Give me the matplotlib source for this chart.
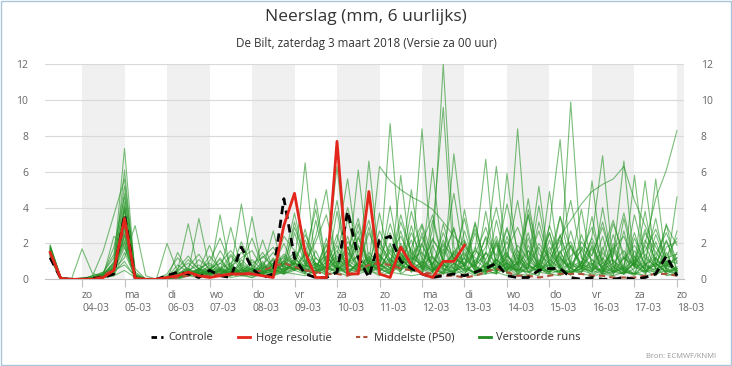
import matplotlib
matplotlib.use("Agg")
import matplotlib.pyplot as plt
from matplotlib.lines import Line2D
import numpy as np

plt.rcParams['font.family'] = ['Open Sans', 'DejaVu Sans']

# 6-hourly steps, first value valid 03-03 06:00
step_hours = 6
start_offset_days = 0.25

day_labels = ["zo\n04-03", "ma\n05-03", "di\n06-03", "wo\n07-03", "do\n08-03",
              "vr\n09-03", "za\n10-03", "zo\n11-03", "ma\n12-03", "di\n13-03",
              "wo\n14-03", "do\n15-03", "vr\n16-03", "za\n17-03", "zo\n18-03"]

controle = [
    1.2, 0.05, 0.0, 0.0, 0.05, 0.1, 0.3, 3.6, 0.05, 0.0, 0.0, 0.2, 0.4, 0.3, 0.1, 0.5, 0.2, 0.1, 1.8,
    0.6, 0.1, 0.3, 4.5, 1.2, 0.3, 0.1, 0.1, 0.4, 3.8, 1.2, 0.1, 2.2, 2.4, 1.0, 0.6,
    0.3, 0.1, 0.2, 0.3, 0.2, 0.4, 0.6, 0.9, 0.2, 0.1, 0.1, 0.5, 0.6, 0.6, 0.1, 0.0,
    0.1, 0.0, 0.0, 0.1, 0.0, 0.1, 0.3, 1.3, 0.2]

hoge_resolutie = [
    1.5, 0.05, 0.0, 0.0, 0.0, 0.1, 0.5, 3.4, 0.05, 0.0, 0.0, 0.1, 0.2, 0.4, 0.2, 0.1, 0.2, 0.3, 0.3,
    0.3, 0.2, 0.1, 3.0, 4.8, 1.5, 0.1, 0.1, 7.7, 0.3, 0.3, 4.9, 0.3, 0.1, 1.8, 0.8,
    0.3, 0.1, 1.0, 1.0, 1.9]

middelste = [
    1.5, 0.05, 0.0, 0.0, 0.05, 0.2, 0.6, 3.0, 0.1, 0.0, 0.0, 0.0, 0.1, 0.2, 0.2, 0.2, 0.3, 0.2, 0.3,
    0.4, 0.5, 0.7, 0.9, 0.7, 0.5, 0.4, 0.3, 0.3, 0.2, 0.5, 0.8, 0.9, 0.8, 0.6, 0.5,
    0.4, 0.3, 0.2, 0.2, 0.1, 0.2, 0.4, 0.6, 0.4, 0.2, 0.2, 0.1, 0.2, 0.3, 0.3, 0.3,
    0.2, 0.2, 0.1, 0.1, 0.1, 0.2, 0.3, 0.3, 0.2]

# perturbed runs (verstoorde runs)
verstoorde_runs = [
    [1.9, 0.1, 0.0, 0.0, 0.1, 0.2, 1.0, 7.3, 0.2, 0.0, 0.0, 0.0, 0.3, 0.6, 0.2, 0.4, 1.2, 0.3, 0.5,
     0.2, 0.8, 1.5, 0.6, 3.2, 1.0, 0.4, 0.8, 2.1, 5.6, 1.2, 0.6, 1.8, 0.9, 3.6, 1.4,
     0.7, 2.3, 1.1, 0.4, 0.9, 1.6, 6.7, 0.3, 2.4, 0.8, 0.2, 1.1, 0.6, 0.3, 1.9, 0.7,
     0.4, 1.2, 0.5, 0.3, 1.0, 2.8, 0.9, 0.4, 0.6],
    [1.7, 0.0, 0.0, 0.1, 0.1, 0.3, 0.6, 6.1, 0.1, 0.0, 0.0, 0.2, 0.5, 3.1, 0.4, 0.3, 0.6, 0.2, 1.1,
     0.5, 0.3, 0.9, 1.2, 0.8, 6.5, 0.6, 0.2, 0.4, 1.3, 2.7, 0.5, 0.3, 1.9, 0.8, 2.6,
     1.2, 0.4, 3.1, 0.9, 0.5, 0.8, 1.4, 6.3, 0.7, 0.2, 1.6, 0.4, 1.1, 2.2, 0.3, 0.8,
     0.2, 0.6, 1.8, 0.4, 0.3, 1.4, 0.6, 0.2, 0.3],
    [1.5, 0.1, 0.0, 0.0, 0.2, 1.6, 3.6, 5.6, 0.3, 0.0, 0.0, 0.1, 0.2, 0.4, 3.4, 0.6, 0.2, 0.9, 0.3,
     0.1, 0.4, 0.6, 0.3, 1.1, 0.7, 2.4, 5.0, 0.6, 0.3, 1.0, 0.4, 2.2, 0.8, 0.5, 1.7,
     0.6, 3.3, 0.9, 0.2, 1.4, 0.5, 0.8, 2.1, 0.4, 8.4, 0.9, 0.3, 1.5, 0.7, 0.2, 2.5,
     0.9, 0.3, 0.6, 1.3, 0.4, 0.2, 2.1, 0.5, 0.2],
    [1.4, 0.0, 0.0, 0.0, 0.0, 0.2, 0.8, 4.8, 0.2, 0.0, 0.0, 0.0, 0.1, 0.3, 0.6, 0.2, 3.6, 0.4, 0.2,
     0.3, 1.0, 0.2, 0.5, 0.9, 0.4, 1.6, 0.3, 0.7, 0.5, 6.1, 1.0, 0.3, 0.6, 2.0, 0.9,
     3.0, 0.4, 1.1, 0.6, 0.2, 1.8, 0.5, 0.3, 5.9, 1.2, 0.4, 0.7, 2.6, 0.3, 0.9, 0.4,
     1.7, 0.5, 0.2, 3.4, 0.8, 0.3, 1.1, 0.6, 0.4],
    [1.6, 0.1, 0.0, 0.0, 0.1, 0.4, 1.2, 4.3, 0.1, 0.0, 0.0, 0.0, 0.2, 0.5, 0.3, 0.8, 0.4, 2.9, 0.6,
     0.4, 0.2, 1.1, 0.7, 0.5, 1.4, 0.8, 0.3, 1.9, 0.6, 0.4, 6.6, 0.9, 0.5, 1.3, 0.4,
     2.0, 0.6, 0.3, 1.5, 0.4, 0.9, 2.3, 0.5, 1.0, 0.3, 0.7, 1.8, 0.5, 0.4, 9.9, 1.2,
     0.6, 2.4, 0.4, 0.3, 1.3, 0.5, 0.8, 2.2, 0.5],
    [1.3, 0.0, 0.0, 0.0, 0.0, 0.1, 0.5, 4.0, 0.1, 0.0, 0.0, 0.1, 0.0, 0.2, 0.4, 0.3, 0.9, 0.5, 4.2,
     0.6, 0.3, 0.8, 0.4, 1.2, 0.5, 0.3, 1.6, 0.8, 2.4, 0.6, 1.1, 0.5, 8.7, 1.4, 0.7,
     0.3, 1.9, 0.6, 0.4, 2.7, 0.8, 0.3, 1.1, 0.5, 1.6, 0.4, 0.2, 3.0, 7.8, 0.6, 0.4,
     1.1, 0.3, 2.0, 0.5, 0.2, 0.9, 0.4, 1.5, 0.3],
    [1.8, 0.1, 0.0, 0.0, 0.1, 0.2, 0.7, 3.8, 0.2, 0.0, 0.0, 0.0, 0.3, 0.2, 0.5, 0.6, 0.2, 0.8, 0.3,
     3.5, 0.4, 0.2, 0.9, 0.6, 1.1, 0.3, 0.7, 2.5, 0.4, 0.9, 0.3, 1.4, 0.6, 0.8, 5.0,
     0.9, 0.4, 1.3, 2.8, 0.6, 0.3, 0.5, 1.9, 0.3, 0.8, 2.6, 0.4, 4.9, 0.6, 0.3, 0.9,
     2.1, 0.4, 0.7, 0.3, 1.6, 0.5, 0.2, 0.8, 1.2],
    [1.2, 0.0, 0.0, 0.0, 0.0, 0.1, 0.3, 3.5, 0.2, 0.0, 0.0, 2.0, 0.4, 0.3, 0.6, 0.2, 0.5, 0.3, 0.7,
     0.4, 0.9, 0.3, 0.5, 0.7, 0.3, 1.2, 0.6, 0.4, 1.5, 0.7, 0.3, 0.9, 0.4, 1.8, 0.6,
     8.4, 0.5, 0.9, 0.3, 1.7, 0.4, 0.6, 2.2, 0.3, 1.0, 0.5, 0.8, 0.4, 1.6, 0.3, 0.6,
     2.4, 6.9, 0.7, 0.3, 0.9, 0.4, 1.2, 0.3, 0.6],
    [1.9, 0.1, 0.0, 1.7, 0.3, 0.2, 0.5, 3.2, 0.3, 0.0, 0.0, 0.0, 0.2, 0.6, 0.3, 0.4, 0.3, 0.6, 0.2,
     0.3, 2.2, 0.5, 0.4, 0.9, 0.6, 0.3, 1.3, 0.5, 0.8, 1.9, 0.4, 0.7, 1.2, 0.5, 0.9,
     0.6, 1.4, 12.0, 1.8, 0.7, 0.3, 1.5, 0.4, 0.9, 0.5, 2.3, 0.6, 0.3, 1.1, 0.6, 0.4,
     0.8, 0.3, 1.3, 6.6, 0.7, 0.4, 0.9, 0.3, 0.2],
    [1.6, 0.0, 0.0, 0.0, 0.0, 0.3, 0.6, 3.0, 0.1, 0.0, 0.0, 0.0, 0.1, 0.4, 0.2, 0.5, 0.3, 0.2, 0.6,
     0.3, 0.5, 2.7, 0.4, 0.6, 0.9, 0.4, 0.7, 1.3, 0.5, 0.8, 1.2, 0.6, 0.3, 1.4, 0.8,
     0.4, 2.8, 9.6, 0.8, 0.3, 1.1, 0.6, 2.0, 0.7, 0.4, 1.2, 0.5, 0.9, 0.3, 0.6, 1.7,
     0.5, 0.9, 0.4, 0.6, 5.8, 0.8, 0.3, 1.0, 0.4],
    [1.5, 0.1, 0.0, 0.0, 0.1, 0.2, 0.4, 2.8, 0.1, 0.0, 0.0, 0.0, 0.0, 0.3, 0.5, 1.9, 0.4, 0.3, 0.5,
     0.8, 0.4, 0.6, 1.0, 0.5, 1.6, 0.9, 0.4, 1.2, 0.7, 2.4, 0.8, 6.3, 5.5, 5.0, 4.6,
     4.3, 3.9, 3.2, 2.4, 1.8, 1.2, 0.9, 0.6, 1.4, 0.5, 0.8, 0.4, 1.1, 0.6, 0.3, 0.9,
     0.4, 1.5, 0.7, 0.3, 0.6, 2.0, 4.5, 6.1, 8.3],
    [1.4, 0.0, 0.0, 0.0, 0.0, 0.1, 0.3, 2.5, 0.1, 0.0, 0.0, 0.0, 1.5, 0.4, 0.2, 0.3, 0.6, 0.4, 0.8,
     0.5, 0.3, 0.7, 1.4, 0.9, 0.6, 4.5, 0.8, 0.4, 1.1, 0.6, 0.9, 0.5, 1.7, 0.3, 0.7,
     2.6, 0.6, 0.4, 1.2, 0.8, 0.3, 0.9, 0.5, 1.3, 4.4, 1.0, 0.6, 0.4, 0.8, 1.9, 0.5,
     0.3, 0.7, 1.1, 0.4, 0.9, 0.6, 5.6, 0.8, 0.5],
    [1.7, 0.1, 0.0, 0.0, 0.2, 0.3, 0.9, 2.2, 0.2, 0.0, 0.0, 0.0, 0.2, 0.3, 0.6, 0.4, 0.2, 0.7, 0.3,
     0.6, 0.4, 0.3, 0.9, 0.5, 0.8, 0.4, 1.2, 0.7, 0.3, 0.9, 0.5, 1.1, 0.6, 1.5, 0.4,
     0.8, 1.3, 0.5, 7.0, 2.0, 0.6, 0.4, 1.1, 0.5, 0.9, 3.6, 0.7, 0.4, 1.2, 0.6, 0.3,
     5.5, 1.0, 0.4, 0.7, 0.3, 1.9, 0.6, 0.8, 0.4],
    [1.3, 0.0, 0.0, 0.0, 0.0, 0.2, 0.5, 2.0, 0.1, 0.0, 0.0, 0.0, 0.1, 0.2, 0.4, 0.3, 0.5, 0.2, 0.4,
     0.7, 0.3, 0.5, 0.8, 1.3, 0.4, 0.9, 0.6, 0.5, 1.8, 0.4, 0.7, 0.9, 0.3, 5.8, 1.0,
     0.6, 0.3, 1.7, 0.5, 0.8, 2.6, 0.4, 0.9, 1.5, 0.3, 0.6, 4.1, 0.7, 0.4, 1.0, 0.6,
     1.8, 0.5, 0.3, 1.2, 0.8, 5.5, 0.9, 0.4, 0.7],
    [1.6, 0.1, 0.0, 0.0, 0.1, 0.2, 2.4, 1.8, 0.1, 0.0, 0.0, 0.0, 0.3, 0.5, 0.2, 0.4, 0.7, 0.3, 0.5,
     0.4, 0.6, 0.9, 0.5, 1.0, 0.4, 0.7, 0.9, 6.3, 0.8, 0.5, 1.3, 0.6, 0.4, 0.9, 2.2,
     0.5, 0.8, 0.4, 1.6, 0.9, 0.3, 0.6, 0.8, 1.1, 0.5, 0.9, 5.2, 0.7, 1.3, 0.4, 0.6,
     0.9, 0.4, 1.6, 0.5, 0.3, 0.8, 1.2, 0.6, 0.3],
    [1.2, 0.0, 0.0, 0.0, 0.0, 0.1, 0.2, 1.5, 0.1, 0.0, 0.0, 0.0, 0.2, 0.4, 0.3, 0.5, 0.2, 0.4, 0.6,
     0.3, 0.7, 0.4, 0.6, 0.8, 0.5, 0.3, 1.0, 0.6, 0.9, 0.4, 1.5, 0.8, 0.5, 1.1, 0.6,
     0.9, 6.2, 0.8, 0.4, 1.2, 0.5, 0.7, 0.9, 0.4, 1.4, 0.6, 0.8, 1.6, 2.4, 3.3, 4.2,
     4.9, 5.3, 5.6, 6.3, 4.4, 3.0, 1.8, 0.9, 0.5],
    [1.8, 0.1, 0.0, 0.0, 0.1, 0.3, 0.6, 1.2, 3.0, 0.2, 0.0, 0.0, 0.1, 0.3, 0.5, 0.2, 0.6, 0.3, 0.9,
     0.5, 0.4, 1.2, 0.3, 2.6, 0.8, 0.5, 1.9, 0.4, 0.7, 3.1, 0.6, 0.9, 2.0, 0.5, 1.3,
     0.7, 0.4, 2.2, 0.8, 1.5, 0.6, 0.3, 3.3, 0.8, 0.5, 1.9, 0.6, 0.4, 2.5, 0.7, 1.0,
     0.5, 1.8, 0.4, 2.7, 0.6, 1.0, 3.4, 0.5, 4.6],
    [1.5, 0.0, 0.0, 0.0, 0.0, 0.2, 0.4, 1.0, 0.1, 0.0, 0.0, 0.0, 0.2, 0.3, 0.4, 0.3, 0.4, 0.6, 0.3,
     0.6, 0.3, 0.5, 0.9, 1.5, 0.6, 0.4, 2.3, 0.5, 3.4, 0.9, 0.4, 1.3, 0.6, 2.7, 0.8,
     0.5, 1.2, 0.6, 0.3, 3.9, 0.7, 0.4, 1.1, 0.6, 0.9, 4.5, 0.8, 0.4, 1.5, 0.6, 0.9,
     3.5, 0.6, 0.4, 1.2, 0.7, 3.8, 0.5, 0.9, 0.6],
    [1.4, 0.1, 0.0, 0.0, 0.1, 0.2, 0.5, 0.8, 0.2, 0.0, 0.0, 0.1, 0.3, 0.2, 0.5, 0.4, 0.2, 1.3, 0.5,
     0.3, 0.8, 0.4, 0.6, 0.9, 2.8, 0.5, 0.7, 0.4, 0.6, 1.4, 0.5, 3.7, 0.9, 0.6, 1.2,
     0.8, 0.5, 1.1, 2.9, 0.6, 0.4, 3.8, 0.7, 0.5, 1.2, 0.8, 0.4, 2.2, 0.6, 0.9, 3.9,
     0.7, 0.4, 2.5, 0.6, 1.1, 0.5, 0.8, 2.1, 0.9],
    [1.7, 0.0, 0.0, 0.0, 0.0, 0.1, 0.3, 2.6, 0.1, 0.0, 0.0, 0.0, 0.1, 0.2, 0.3, 0.5, 0.3, 0.2, 0.4,
     0.6, 0.4, 0.8, 0.5, 0.7, 0.4, 3.3, 0.6, 1.0, 0.5, 0.7, 2.9, 0.4, 1.1, 0.6, 0.8,
     2.4, 0.6, 0.3, 0.9, 0.5, 3.1, 0.7, 0.4, 1.3, 0.6, 3.6, 0.5, 0.8, 0.4, 2.7, 0.6,
     0.4, 4.0, 0.8, 0.5, 0.9, 0.4, 0.6, 3.1, 0.4],
    [1.6, 0.1, 0.0, 0.0, 0.1, 0.3, 0.8, 3.4, 0.2, 0.0, 0.0, 0.0, 0.2, 0.4, 0.3, 0.6, 0.4, 0.3, 0.5,
     0.4, 0.5, 0.3, 1.1, 0.5, 0.8, 0.6, 0.4, 3.8, 0.9, 0.5, 0.7, 0.6, 4.1, 0.8, 0.5,
     1.0, 0.5, 0.8, 0.6, 2.1, 0.7, 0.5, 1.2, 2.9, 0.6, 0.4, 0.9, 0.5, 3.5, 0.8, 0.6,
     1.9, 0.7, 0.4, 0.8, 2.6, 0.6, 0.9, 0.4, 1.5],
    [1.3, 0.0, 0.0, 0.0, 0.0, 0.2, 0.6, 4.1, 0.1, 0.0, 0.0, 0.0, 0.1, 0.3, 0.2, 0.3, 0.5, 0.4, 0.3,
     0.5, 0.6, 0.4, 0.3, 0.6, 0.4, 0.9, 0.5, 0.7, 0.4, 0.6, 0.9, 0.5, 0.8, 0.4, 3.0,
     0.6, 0.9, 0.5, 0.4, 0.8, 3.2, 0.6, 0.5, 0.9, 0.4, 0.7, 0.5, 1.8, 0.6, 0.4, 0.8,
     0.6, 0.5, 0.9, 0.4, 2.3, 0.8, 0.5, 0.6, 2.7],
    [1.5, 0.1, 0.0, 0.0, 0.1, 0.2, 0.4, 2.9, 0.1, 0.0, 0.0, 0.0, 0.2, 0.3, 0.4, 0.3, 0.2, 0.5, 0.4,
     0.2, 0.4, 0.6, 0.3, 0.5, 0.3, 0.4, 0.6, 0.8, 0.3, 0.5, 0.4, 0.6, 0.3, 0.8, 0.5,
     0.4, 0.7, 0.3, 0.5, 0.6, 0.4, 0.5, 0.3, 0.7, 0.5, 0.4, 0.6, 0.3, 0.5, 0.4, 0.6,
     0.5, 0.3, 0.4, 0.6, 0.3, 0.5, 0.4, 1.8, 2.1],
    [1.4, 0.0, 0.0, 0.0, 0.0, 0.1, 0.2, 0.5, 0.1, 0.0, 0.0, 0.0, 0.1, 0.2, 0.1, 0.2, 0.3, 0.1, 0.2,
     0.1, 0.3, 0.2, 0.4, 0.3, 0.2, 0.5, 0.3, 0.4, 0.2, 0.3, 0.5, 0.2, 0.4, 0.3, 0.2,
     0.3, 0.2, 0.4, 0.3, 0.5, 0.2, 0.3, 0.4, 0.2, 0.3, 0.2, 0.4, 0.3, 0.2, 0.5, 0.3,
     0.2, 0.3, 0.2, 0.4, 0.3, 0.2, 0.3, 0.5, 0.3],
    [1.6, 0.1, 0.0, 0.0, 0.1, 0.2, 0.7, 2.4, 0.2, 0.0, 0.0, 0.3, 1.2, 0.5, 0.8, 0.4, 1.6, 0.6, 0.3,
     1.1, 0.5, 0.8, 2.0, 0.6, 1.4, 3.9, 0.8, 1.6, 0.7, 2.3, 1.0, 0.8, 3.1, 1.2, 0.6,
     1.9, 0.8, 2.6, 1.1, 3.4, 0.7, 1.5, 0.9, 2.8, 1.1, 0.6, 3.2, 1.0, 2.4, 0.8, 1.6,
     2.9, 0.9, 1.4, 3.7, 1.2, 0.6, 2.5, 1.0, 0.9],
    [1.8, 0.1, 0.0, 0.0, 0.2, 0.4, 1.4, 5.2, 0.4, 0.0, 0.0, 0.0, 0.4, 1.1, 0.6, 0.9, 0.5, 1.4, 0.7,
     0.5, 1.3, 0.7, 2.4, 1.6, 0.9, 2.1, 3.6, 0.9, 1.8, 0.7, 2.6, 1.3, 0.8, 3.2, 1.5,
     0.9, 2.2, 1.4, 4.8, 1.1, 0.7, 2.4, 1.3, 4.2, 1.6, 0.8, 2.0, 1.2, 3.5, 1.7, 0.9,
     2.3, 1.0, 3.1, 1.4, 0.8, 2.6, 1.5, 0.7, 1.2],
    [1.3, 0.0, 0.0, 0.0, 0.0, 0.1, 0.4, 1.8, 0.1, 0.0, 0.0, 0.0, 0.6, 1.3, 0.5, 1.0, 2.3, 0.7, 1.2,
     1.6, 0.6, 1.1, 0.8, 2.9, 1.2, 0.7, 1.5, 4.4, 0.9, 1.3, 0.6, 2.0, 1.1, 0.7, 3.8,
     1.4, 0.8, 1.9, 0.6, 1.2, 2.8, 1.0, 0.5, 1.7, 2.9, 1.3, 0.7, 3.0, 1.2, 0.6, 2.1,
     1.3, 3.2, 0.9, 1.6, 0.7, 2.2, 1.1, 3.0, 1.9],
    [1.5, 0.1, 0.0, 0.0, 0.1, 0.3, 1.8, 4.6, 0.6, 0.0, 0.0, 0.1, 0.8, 0.4, 1.1, 0.6, 0.9, 1.6, 0.8,
     2.3, 0.7, 0.5, 1.3, 0.8, 2.5, 1.2, 0.6, 1.4, 4.0, 1.8, 0.9, 2.7, 1.4, 0.8, 1.8,
     3.1, 1.2, 0.7, 1.5, 2.2, 0.9, 1.8, 4.0, 1.3, 0.8, 3.9, 1.4, 0.9, 1.9, 4.4, 1.2,
     0.8, 1.6, 3.3, 1.1, 1.9, 0.8, 1.4, 2.6, 1.0],
    [1.7, 0.1, 0.0, 0.0, 0.1, 0.3, 0.9, 3.9, 0.2, 0.0, 0.0, 0.0, 0.3, 0.7, 1.4, 0.5, 1.1, 0.4, 2.1,
     0.7, 1.5, 0.6, 1.0, 3.7, 1.0, 0.6, 2.0, 0.8, 1.6, 3.4, 0.7, 1.1, 2.6, 0.9, 1.4,
     2.0, 3.6, 0.9, 1.4, 0.7, 1.6, 1.1, 2.4, 0.6, 1.9, 1.1, 2.7, 0.8, 1.5, 2.1, 0.7,
     1.4, 2.9, 1.0, 0.6, 3.6, 1.2, 0.7, 1.3, 2.3],
    [1.4, 0.0, 0.0, 0.0, 0.0, 0.2, 0.6, 2.1, 0.1, 0.0, 0.0, 0.0, 0.5, 0.9, 0.4, 1.3, 0.6, 0.9, 1.5,
     0.9, 1.2, 1.8, 0.7, 1.1, 2.2, 0.8, 1.3, 0.6, 2.1, 1.5, 3.3, 0.7, 1.5, 2.4, 1.1,
     1.5, 0.9, 2.0, 1.2, 0.8, 1.4, 2.9, 1.0, 2.1, 0.8, 1.6, 0.9, 2.6, 0.7, 1.3, 1.8,
     1.1, 0.7, 1.7, 2.4, 0.9, 1.6, 2.8, 1.2, 1.4],
]


def main():
    fig = plt.figure(figsize=(7.32, 3.66), dpi=100)
    ax = fig.add_axes([45 / 732, 1 - 279.3 / 366, 639 / 732, 215 / 366])

    def days(values):
        return start_offset_days + np.arange(len(values)) * step_hours / 24

    x_left, x_right = 0.129, 15.165
    ax.set_xlim(x_left, x_right)
    ax.set_ylim(0, 12)

    # alternating day bands
    for d in range(1, 16, 2):
        ax.axvspan(d, min(d + 1, x_right), color="#f0f0f0", lw=0, zorder=0)

    for y in range(2, 13, 2):
        ax.axhline(y, color="#d9d9d9", lw=0.8, zorder=1)

    for run in verstoorde_runs:
        ax.plot(days(run), run, color="#239323", lw=0.8, alpha=0.6, zorder=2)

    ax.plot(days(middelste), middelste, color="#b0533a", lw=1.5, ls=(0, (3, 2)), zorder=3)
    ax.plot(days(controle), controle, color="black", lw=2, ls=(0, (3, 2)), zorder=4)
    ax.plot(days(hoge_resolutie), hoge_resolutie, color="#e3261b", lw=2, zorder=5)

    for s in ["top", "left", "right"]:
        ax.spines[s].set_visible(False)
    ax.spines["bottom"].set_color("#c0c0c0")
    ax.spines["bottom"].set_linewidth(0.8)

    ax.set_xticks(np.arange(1, 16))
    ax.set_xticklabels(day_labels, ha="left", fontsize=7.5, color="#666666",
                       linespacing=1.25)
    ax.tick_params(axis="x", length=6, color="#c0c0c0", pad=2)

    ax.set_yticks(range(0, 13, 2))
    ax.tick_params(axis="y", length=0, labelsize=7.5, labelcolor="#666666", pad=12,
                   labelright=True)

    fig.text(0.5, 1 - 17 / 366, "Neerslag (mm, 6 uurlijks)", ha="center", va="center",
             fontsize=12.5, color="#333333")
    fig.text(0.5, 1 - 44 / 366, "De Bilt, zaterdag 3 maart 2018 (Versie za 00 uur)",
             ha="center", va="center", fontsize=8.4, color="#333333")

    handles = [
        Line2D([], [], color="black", lw=2, ls=(0, (2, 1.5))),
        Line2D([], [], color="#e3261b", lw=2),
        Line2D([], [], color="#b0533a", lw=1.5, ls=(0, (2, 1.5))),
        Line2D([], [], color="#1f8a1f", lw=2),
    ]
    labels = ["Controle", "Hoge resolutie", "Middelste (P50)", "Verstoorde runs"]
    fig.legend(handles, labels, loc="center", bbox_to_anchor=(0.5, 1 - 338 / 366),
               ncol=4, frameon=False, fontsize=8, handlelength=1.1,
               handletextpad=0.5, columnspacing=2.2, labelcolor="#333333")

    fig.text(0.978, 1 - 357 / 366, "Bron: ECMWF/KNMI", ha="right", va="center",
             fontsize=5.5, color="#999999")

    # thin border round the image
    fig.patches.append(plt.Rectangle((0.001, 0.002), 0.997, 0.995, transform=fig.transFigure,
                                     fill=False, edgecolor="#a9c6dc", lw=1))

    fig.savefig("out.png", dpi=100)


if __name__ == "__main__":
    main()
